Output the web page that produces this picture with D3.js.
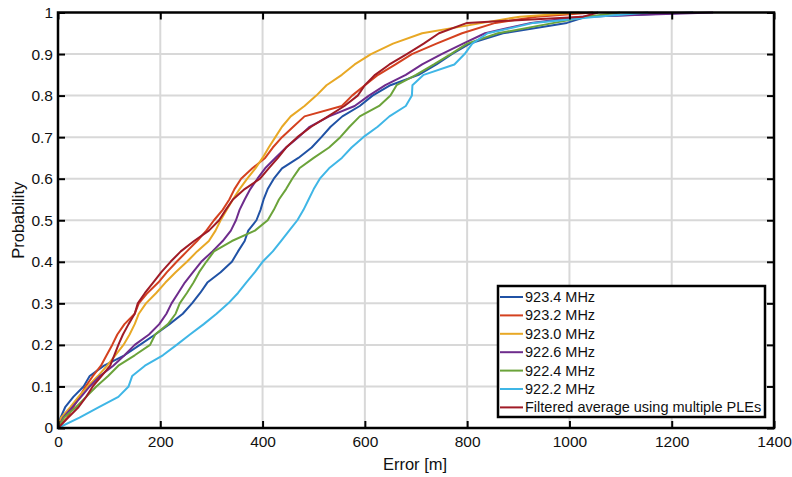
<!DOCTYPE html>
<html>
<head>
<meta charset="utf-8">
<script src="https://cdn.jsdelivr.net/npm/d3@7.9.0/dist/d3.min.js"></script>
<style>
  body { margin: 0; background: #fff; }
  svg { display: block; font-family: "Liberation Sans", Arial, sans-serif; }
</style>
</head>
<body>
<svg id="chart" width="792" height="477"></svg>
<script>
const probLevels = [0, 0.025, 0.05, 0.075, 0.1, 0.125, 0.15, 0.175, 0.2, 0.225,
  0.25, 0.275, 0.3, 0.325, 0.35, 0.375, 0.4, 0.425, 0.45, 0.475,
  0.5, 0.525, 0.55, 0.575, 0.6, 0.625, 0.65, 0.675, 0.7, 0.725,
  0.75, 0.775, 0.8, 0.825, 0.85, 0.875, 0.9, 0.925, 0.95, 0.975, 0.99, 1];

// error [m] at each probability level, per series
const err9234 = [0, 5, 14, 30, 50, 62, 90, 130, 160, 190,
  218, 244, 262, 278, 292, 318, 340, 352, 365, 372,
  388, 396, 402, 410, 422, 438, 470, 496, 515, 533,
  556, 590, 615, 650, 705, 740, 770, 805, 870, 995, 1034, 1242];
const err9232 = [0, 18, 30, 42, 54, 68, 84, 95, 106, 116,
  130, 150, 158, 175, 196, 213, 232, 252, 272, 290,
  305, 322, 335, 345, 358, 380, 405, 420, 438, 460,
  482, 555, 575, 600, 626, 660, 692, 740, 790, 855, 936, 1046];
const err9230 = [0, 6, 24, 40, 58, 78, 96, 112, 128, 140,
  150, 158, 172, 192, 210, 230, 252, 272, 295, 308,
  318, 330, 342, 355, 370, 386, 400, 412, 425, 438,
  455, 482, 505, 525, 555, 580, 612, 655, 712, 830, 903, 1020];
const err9226 = [0, 10, 28, 45, 62, 82, 108, 130, 150, 178,
  198, 212, 222, 235, 248, 264, 280, 302, 322, 338,
  348, 355, 365, 376, 390, 405, 425, 446, 470, 492,
  530, 580, 608, 640, 680, 712, 750, 792, 835, 925, 1021, 1281];
const err9224 = [0, 12, 35, 55, 75, 98, 118, 150, 180, 190,
  215, 230, 238, 252, 265, 276, 290, 305, 340, 385,
  410, 422, 432, 446, 458, 472, 500, 530, 552, 570,
  590, 628, 650, 662, 700, 735, 768, 800, 860, 970, 1034, 1099];
const err9222 = [0, 42, 80, 118, 138, 145, 170, 205, 232, 258,
  285, 310, 333, 352, 368, 385, 400, 420, 436, 452,
  468, 480, 490, 500, 512, 530, 555, 574, 597, 625,
  648, 680, 692, 693, 715, 775, 795, 810, 840, 930, 1053, 1154];
const errFiltered = [0, 20, 40, 55, 68, 85, 102, 110, 118, 127,
  138, 150, 156, 170, 186, 202, 220, 240, 266, 295,
  315, 328, 342, 365, 395, 412, 430, 446, 468, 495,
  528, 560, 586, 600, 620, 648, 682, 715, 745, 800, 1027, 1056];

const seriesNames = ["923.4 MHz", "923.2 MHz", "923.0 MHz", "922.6 MHz",
  "922.4 MHz", "922.2 MHz", "Filtered average using multiple PLEs"];
const seriesColors = ["#2052a5", "#d4411f", "#e8a825", "#6e2c8c",
  "#6ba33a", "#3fb6e6", "#a01b26"];
const seriesErrors = [err9234, err9232, err9230, err9226, err9224, err9222, errFiltered];

const xTicks = [0, 200, 400, 600, 800, 1000, 1200, 1400];
const yTicks = [0, 0.1, 0.2, 0.3, 0.4, 0.5, 0.6, 0.7, 0.8, 0.9, 1];

const svg = d3.select('#chart');

// plot area
const plotLeft = 58, plotRight = 774, plotTop = 12.5, plotBottom = 428;

const x = d3.scaleLinear().domain([0, 1400]).range([plotLeft, plotRight]);
const y = d3.scaleLinear().domain([0, 1]).range([plotBottom, plotTop]);

// grid lines
svg.append('g')
  .selectAll('line')
  .data(xTicks.slice(1, -1))
  .join('line')
  .attr('x1', d => x(d)).attr('x2', d => x(d))
  .attr('y1', plotTop).attr('y2', plotBottom)
  .attr('stroke', '#d8d8d8').attr('stroke-width', 2);

svg.append('g')
  .selectAll('line')
  .data(yTicks.slice(1, -1))
  .join('line')
  .attr('y1', d => y(d)).attr('y2', d => y(d))
  .attr('x1', plotLeft).attr('x2', plotRight)
  .attr('stroke', '#d8d8d8').attr('stroke-width', 2);

// CDF curves
const line = d3.line()
  .x(d => x(d[0]))
  .y(d => y(d[1]));

svg.append('g')
  .selectAll('path')
  .data(seriesErrors)
  .join('path')
  .attr('d', errs => line(errs.map((e, i) => [e, probLevels[i]])))
  .attr('fill', 'none')
  .attr('stroke', (d, i) => seriesColors[i])
  .attr('stroke-width', 2)
  .attr('stroke-linejoin', 'round');

// axes (ticks inside, box on all sides)
const tickLen = 7;
const axisFont = '15.5px';

const xAxis = svg.append('g')
  .attr('transform', `translate(0,${plotBottom})`)
  .call(d3.axisBottom(x).tickValues(xTicks).tickFormat(d3.format('d')).tickSize(-tickLen).tickSizeOuter(0).tickPadding(8));
const yAxis = svg.append('g')
  .attr('transform', `translate(${plotLeft},0)`)
  .call(d3.axisLeft(y).tickValues(yTicks).tickFormat(d3.format('~g')).tickSize(-tickLen).tickSizeOuter(0).tickPadding(5));
const xAxisTop = svg.append('g')
  .attr('transform', `translate(0,${plotTop})`)
  .call(d3.axisTop(x).tickValues(xTicks).tickSize(-tickLen).tickSizeOuter(0).tickFormat(''));
const yAxisRight = svg.append('g')
  .attr('transform', `translate(${plotRight},0)`)
  .call(d3.axisRight(y).tickValues(yTicks).tickSize(-tickLen).tickSizeOuter(0).tickFormat(''));

[xAxis, yAxis, xAxisTop, yAxisRight].forEach(g => {
  g.select('.domain').remove();
  g.selectAll('.tick line').attr('stroke', '#000').attr('stroke-width', 2);
  g.selectAll('.tick text').attr('fill', '#111').style('font-size', axisFont)
    .style('font-family', '"Liberation Sans", Arial, sans-serif');
});

svg.append('rect')
  .attr('x', plotLeft).attr('y', plotTop)
  .attr('width', plotRight - plotLeft).attr('height', plotBottom - plotTop)
  .attr('fill', 'none').attr('stroke', '#000').attr('stroke-width', 2.5);

// axis labels
svg.append('text')
  .attr('x', 415).attr('y', 470)
  .attr('text-anchor', 'middle')
  .style('font-size', '16.5px').attr('fill', '#111')
  .text('Error [m]');

svg.append('text')
  .attr('transform', `translate(24,${(plotTop + plotBottom) / 2}) rotate(-90)`)
  .attr('text-anchor', 'middle')
  .style('font-size', '16.5px').attr('fill', '#111')
  .text('Probability');

// legend
const legend = svg.append('g');
legend.append('rect')
  .attr('x', 498).attr('y', 286).attr('width', 267).attr('height', 131)
  .attr('fill', '#fff').attr('stroke', '#000').attr('stroke-width', 2.5);

const rows = legend.selectAll('g.row')
  .data(seriesNames)
  .join('g')
  .attr('class', 'row')
  .attr('transform', (d, i) => `translate(0,${297 + i * 18.4})`);

rows.append('line')
  .attr('x1', 500).attr('x2', 523).attr('y1', 0).attr('y2', 0)
  .attr('stroke', (d, i) => seriesColors[i]).attr('stroke-width', 2);

rows.append('text')
  .attr('x', 525).attr('y', 5)
  .style('font-size', '14.5px').attr('fill', '#111')
  .text(d => d);
</script>
</body>
</html>
